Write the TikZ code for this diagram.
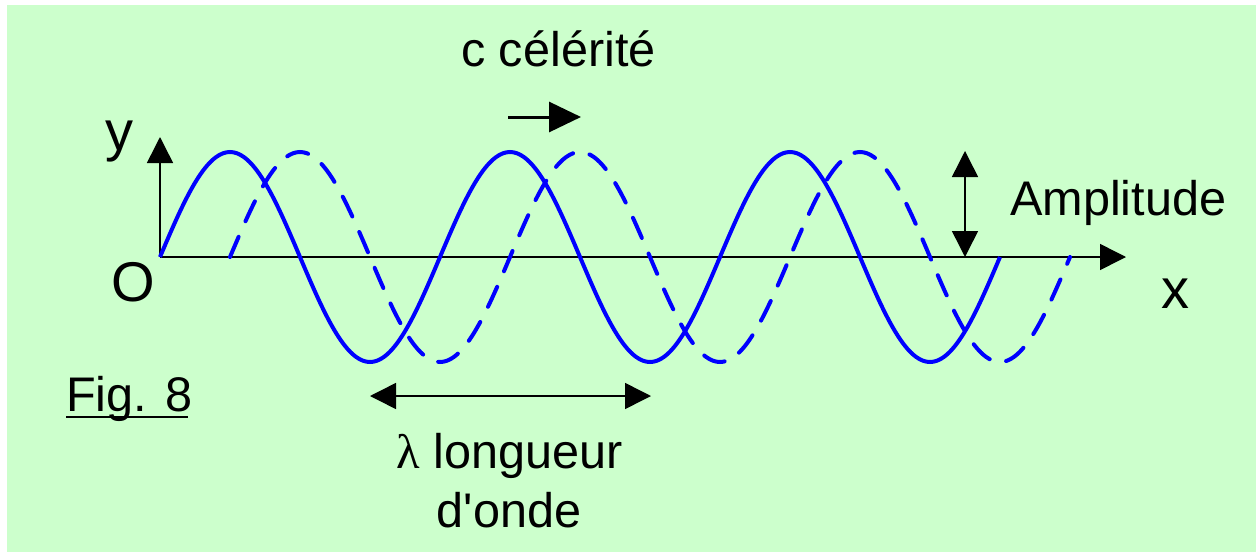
\documentclass[tikz,border=0pt]{standalone}
\usepackage{fontspec}
\setmainfont{Liberation Sans}
\newfontfamily\lamfont{Liberation Serif}
\usetikzlibrary{arrows.meta}
\definecolor{bggreen}{HTML}{CCFFCC}
\definecolor{waveblue}{HTML}{0000FF}
\tikzset{
  axisline/.style={line width=1.5pt, -{Triangle[length=26pt,width=26pt]}},
  dimline/.style={line width=1.5pt, {Triangle[length=26pt,width=26pt]}-{Triangle[length=26pt,width=26pt]}},
  speedline/.style={line width=3pt, -{Triangle[length=32pt,width=30pt]}},
  solidwave/.style={waveblue, line width=4pt},
  dashwave/.style={waveblue, line width=4pt, line cap=round, dash pattern=on 22pt off 17pt},
  lbl/.style={inner sep=0pt, font=\fontsize{48.6}{58}\selectfont},
  biglbl/.style={inner sep=0pt, font=\fontsize{56}{66}\selectfont},
}
\begin{document}
\begin{tikzpicture}[x=1pt,y=-1pt]
\useasboundingbox (0,0) rectangle (1256,552);
\fill[white] (0,0) rectangle (1256,552);
\fill[bggreen] (7,5) rectangle (1256,552);
% axes
\coordinate (O) at (160,257);
\coordinate (xend) at (1126,257);
\coordinate (yend) at (160,137);
\draw[axisline] (O) -- (xend);
\draw[axisline] (O) -- (yend);
% waves
\draw[solidwave] plot[domain=160:1000, samples=241, smooth] (\x, {257-105*sin(((\x-160)/280)*360)});
\draw[dashwave] plot[domain=230:1070, samples=241, smooth] (\x, {257-105*sin(((\x-230)/280)*360)});
% amplitude arrow
\coordinate (a1) at (965,151);
\coordinate (a2) at (965,257);
\draw[dimline] (a1) -- (a2);
% wavelength arrow
\coordinate (l1) at (370,396);
\coordinate (l2) at (651,396);
\draw[dimline] (l1) -- (l2);
% celerity arrow
\coordinate (c1) at (508,117);
\coordinate (c2) at (581,117);
\draw[speedline] (c1) -- (c2);
% labels
\node[biglbl, anchor=base] (ylbl) at (119,150) {y};
\node[biglbl, anchor=base] (olbl) at (133,301) {O};
\node[biglbl, anchor=base] (xlbl) at (1175,308) {x};
\node[lbl, anchor=base west] (amp) at (1010,215) {Amplitude};
\node[lbl, anchor=base west] (cel) at (461,66) {c célérité};
\node[lbl, anchor=base] (lam) at (510,468) {{\lamfont λ} longueur};
\node[lbl, anchor=base] (onde) at (509,527) {d\textquotesingle onde};
\node[lbl, anchor=base west] (fig) at (66,411) {Fig. 8};
\draw[line width=2.5pt] (66,417) -- (188,417);
\end{tikzpicture}
\end{document}
